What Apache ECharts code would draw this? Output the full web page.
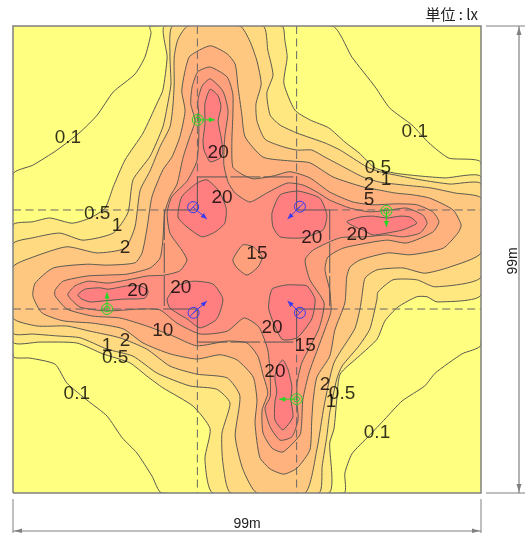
<!DOCTYPE html>
<html>
<head>
<meta charset="utf-8">
<style>html,body{margin:0;padding:0;background:#fff}#c{width:525px;height:533px}</style>
<script src="https://cdn.jsdelivr.net/npm/echarts@6/dist/echarts.min.js"></script>
</head>
<body>
<div id="c"></div>
<script>
// Room size in metres; every contour below is [x, y] in metres on the plan.
const roomSize = 99;
const unitLabel = '単位 : lx';
const sizeLabel = '99m';

// Illuminance contours (lx): region at or above each level.
const level01 = [[29,99],[67.5,99],[71.7,92.4],[76.6,86.1],[79.7,81.6],[84.4,78],[88,74.2],[92.2,71],[99,70],[99,31.4],[95,29.5],[89.3,25.4],[87.1,22.7],[82.3,19.5],[78.7,15.7],[75.3,12.1],[71.7,8.3],[70.2,4.2],[70,0],[31.5,0],[29.4,3.6],[26.2,8.5],[23.1,11.7],[19.9,16.3],[15.9,19.5],[11.4,23.3],[8.9,27.3],[3.6,28.6],[0,29],[0,67.6],[4.2,69.5],[9.3,72.7],[14.2,76.5],[17.8,80.1],[21.2,85],[25.8,88.8],[27.9,92.4],[29.2,97.5]];
const level05 = [[32.1,99],[56.9,99],[57.5,96],[58,92.4],[57.3,86.9],[59.6,81.2],[62.8,79.1],[66.8,77.4],[70.2,74.4],[73.2,72.1],[76.6,68.9],[80.8,67.8],[86.1,67.2],[91.4,66.8],[99,67],[99,42],[89.7,40.5],[87.6,41.6],[85.4,41.6],[81.4,39.4],[78.7,36.5],[77,32.6],[73.2,29],[69.2,25.2],[68.5,19.9],[67.9,13.6],[67,10.6],[66.8,0],[42.3,0],[40.6,7.2],[41.7,13.6],[38.1,18.4],[31.7,22.3],[28.3,24.8],[24.7,27.6],[19,29.5],[13.5,31.8],[5.7,32],[0,32],[0,56.8],[4.2,57.5],[7.8,58.3],[12.5,57.2],[16.3,58.3],[19.5,60.4],[21.2,64.9],[23.7,70.6],[27.5,76.3],[30.5,82.7],[31.7,85.4],[32.6,92.4]];
const level1 = [[33.8,99],[52.9,99],[53.9,93.9],[55,88.6],[53.7,84.8],[54.4,80.1],[56.5,78],[60.1,76.3],[66,74.2],[69.2,72.7],[74.9,69.1],[77.6,68.1],[81.9,67.2],[86.1,66.4],[92.4,65.5],[99,65.5],[99,45.8],[89.3,43.7],[85.4,45.2],[80.4,45.2],[77.2,42.6],[77,41.1],[75.5,34.8],[73.2,31.2],[69.6,26.9],[68.5,24.2],[67,17],[66.4,12.1],[65.4,5.7],[64.7,0],[46.1,0],[44.4,6.4],[44.2,12.7],[45.9,19.1],[43.1,22],[37.4,22.7],[30.5,25.4],[25.4,29],[19.9,30.5],[14.2,32.9],[9.3,33.3],[4.2,33.7],[0,33.9],[0,52.8],[4.2,54.1],[9.9,55.1],[14.8,53.6],[21.2,55.1],[24.3,59.4],[25.4,66.4],[29,71.4],[31.7,77.6],[32.6,81.8],[33.4,86.7],[33.2,93.1]];
const level2 = [[37,99],[48,99],[50.1,95.8],[51.6,91.6],[52.5,86.7],[51.4,82.5],[51.6,78.9],[53.3,75],[57.1,73.4],[60.1,72.7],[63.2,72.7],[66,71.2],[69.2,69.5],[74,67],[77.6,65.9],[82.5,65.3],[88.2,64.7],[93.5,63.6],[99,62.5],[99,50.9],[92.4,47.9],[87.1,46.6],[82.5,47.7],[77,47.3],[74.5,45.6],[73.8,41.6],[73.4,39],[72.3,34.8],[67.9,27.6],[65.8,18.4],[64.3,9.3],[61.8,0],[51.6,0],[48.6,5.1],[47,12.1],[48,20.6],[45.3,24.4],[38.9,25.2],[33.2,26.9],[28.3,30.5],[22.6,32.9],[16.3,34.3],[11.4,35.4],[5.1,35.4],[0,37.1],[0,47.9],[4.2,50],[11.4,52.2],[17.8,50.9],[23.7,51.9],[25.8,56.4],[26.9,64.2],[29,68.3],[31.1,73.4],[33.2,77.6],[33.8,81.8],[34.1,86.7],[34.1,92.4],[34.9,96.2]];
const level5 = [[41.7,94.8],[45.3,93.1],[47,90.9],[47.6,86.1],[48.4,80.3],[49.1,75.5],[52.9,71.2],[58.6,70.4],[62.8,70],[67.7,67],[74,64.9],[77.6,64.2],[80.8,63.6],[84.6,63.2],[88.2,62.5],[93.1,60],[94.8,56.8],[94.1,55.1],[91,51.9],[84,50.5],[79.3,50.9],[73.4,49.4],[71.3,47.9],[70.6,45.8],[70.2,40.3],[68.1,34.6],[67,29],[64.3,24.6],[63.5,19.7],[63.2,15.5],[62.8,9.1],[60.1,5.3],[57.3,4],[54.4,5.1],[52.2,7.6],[51.2,14.8],[51.6,19.7],[50.8,24.6],[47.4,28.2],[43.8,29.3],[38.9,28.4],[33.2,29.5],[27.5,31.8],[23.3,34.8],[16.9,36],[10.6,36.5],[6.1,38.2],[4.2,41.8],[4.7,44.5],[8.5,47.7],[15.7,48.5],[19.9,48.3],[25.8,48.8],[27.3,50.9],[28.3,55.8],[29.4,62.8],[31.7,68.5],[33.6,71.2],[35.3,75.5],[36.4,81],[35.7,85.2],[36.4,89.5],[37.4,92.6]];
const level10 = [[41.7,90.3],[45.3,88.2],[46.5,84.6],[46.5,79.7],[46.3,74.6],[46.5,69.1],[48.4,67.6],[50.8,66.6],[55,67.2],[58.6,68.1],[62.8,66.8],[67,63.8],[71.9,61.7],[76.1,61.1],[81.2,61.3],[85.4,61.1],[88.8,59.6],[90.1,57.5],[88.8,55.3],[83.3,53],[79.3,53.6],[76.1,53.2],[69.8,51.9],[66.6,50],[66,47.3],[67,43],[67.3,39],[67,37.5],[64.7,31.2],[62.6,25.4],[61.3,19.7],[61.1,15.5],[60.7,12.3],[57.1,8.7],[54.8,9.5],[52.9,12.7],[52.7,17.6],[53.9,21.2],[52.9,25],[51.8,29],[49.5,31.8],[45.3,32.2],[38.9,31.2],[33.8,33.3],[28.3,35.4],[22.6,37.1],[16.9,37.5],[11.4,39],[8.9,41.8],[8.9,43],[10.6,44.9],[15.7,46],[19.9,46.2],[24.1,46.4],[29,47.7],[31.1,49.8],[31.7,53.6],[32.1,59.4],[33.2,62.8],[34.7,65.5],[36,71.2],[37.4,75.5],[38.5,78.9],[37.6,82.5],[37.9,86.1],[39.1,89.3]];
const level15 = [[41.7,87.8],[44.4,85.2],[45.5,81],[44.8,75.5],[44.6,69.7],[45.5,65.9],[47,63.6],[50.1,61.7],[53.7,63.6],[58,65.7],[61.3,65.3],[64.3,63.8],[67,62.1],[71.3,60.4],[75.5,59.6],[79.7,60],[83.3,60.4],[86.7,58.9],[87.6,57.2],[86.1,55.1],[82.5,54.3],[79.1,54.7],[74.5,54.3],[69.2,54.1],[63.5,51.5],[61.8,49.4],[62.8,45.2],[65.8,40.3],[64.7,34.8],[61.1,27.6],[60.1,23.3],[60.1,19.1],[60.3,15.5],[59,11.9],[56.5,11.2],[54.4,14],[53.3,18],[54.4,20.4],[54.4,24.6],[53.9,30.3],[52,35.2],[48.9,37.1],[45.3,34.3],[39.6,33.7],[34.7,36],[31.1,38.8],[26.9,39],[19.9,38.6],[14.2,39.4],[11.6,42],[13.1,43.9],[15.9,44.9],[20.1,44.5],[25.4,45.4],[28.3,46],[32.1,46.2],[35.3,47.1],[36.8,49.4],[35.7,51.5],[33.2,55.1],[32.6,59.4],[33.6,62.8],[36.8,66.1],[38.9,70.4],[39.3,75.5],[39.3,80.3],[39.1,83.1],[40,86.3]];
const centreHole = [[48.6,52.6],[46.5,49.4],[47.4,47.7],[49.5,46.2],[51.8,47.9],[52.7,50],[50.8,52.2]];
const level20Top = [[41.7,85.6],[43.4,84.2],[44,81.8],[43.4,78.9],[44,75.5],[44.4,72.3],[43.8,71],[41.7,70.2],[40.4,72.7],[40.2,74.8],[40.6,78.2],[40.6,82.5]];
const level20Right = [[85.4,57.2],[84,58.5],[81.9,58.7],[79.1,58.3],[76.1,58.7],[73.4,58.5],[70.6,57.5],[72.8,56.2],[74,55.8],[76.1,54.7],[79.1,55.1],[82.5,55.8]];
const level20Bottom = [[57.1,28.2],[58.2,26.1],[59,22.5],[58.8,19.7],[59.2,16.1],[57.1,13.4],[55.4,15.5],[55.4,19.3],[55.8,21.4],[55.4,24.6],[56.1,27.1]];
const level20Left = [[13.7,42],[15.2,43.2],[18.4,43.5],[20.1,43.2],[24.1,43.9],[26.9,43.9],[28.6,42.8],[27.9,41.3],[23.3,41.1],[19,40.7],[16.3,40.5],[14.6,41.1]];
const level20TL = [[38.9,65.7],[41,66.4],[43.4,64.2],[45.1,60.4],[44.8,57.2],[42.7,55.3],[40,54.3],[36.8,56.4],[34.9,58.5],[35.7,62.8]];
const level20TR = [[54.8,59.4],[56.5,63.2],[60.3,64],[64.9,62.5],[66.4,58.9],[65.6,55.8],[61.3,54.1],[56.5,54.3],[55,56.4]];
const level20BL = [[32.6,41.1],[34.7,43.9],[38.1,44.9],[42.3,44.3],[44.4,41.1],[43.1,36.9],[39.6,35],[36.8,36.9],[33.2,39.2]];
const level20BR = [[54.8,43.2],[54.1,39],[56.9,32.6],[60.1,32.9],[63.2,36.9],[63.9,41.1],[62.2,43.9],[60.1,44.1],[57.7,44.1]];

// Contour labels: [x, y, text]
const contourLabels = [[11.6,75.3,'0.1'],[85,76.5,'0.1'],[77,12.7,'0.1'],[13.5,21,'0.1'],[17.8,59.1,'0.5'],[22,56.6,'1'],[23.7,51.9,'2'],[77.2,68.9,'0.5'],[78.9,66.4,'1'],[75.3,65.3,'2'],[75.3,62.1,'5'],[43.4,72.1,'20'],[44.2,62.5,'20'],[63.2,54.1,'20'],[72.8,54.7,'20'],[51.6,50.7,'15'],[26.4,42.8,'20'],[35.5,43.5,'20'],[31.7,34.3,'10'],[19.9,31.2,'1'],[23.7,32.2,'2'],[21.6,28.6,'0.5'],[54.8,35,'20'],[61.8,31.2,'15'],[55.4,25.7,'20'],[66,22.9,'2'],[67.3,19.3,'1'],[69.6,21,'0.5']];

// Luminaires: [x, y, aimX, aimY]
const blueLamps = [[38.1,60.6,41,58.1],[60.7,60.7,58.1,58.1],[38.2,38.2,41,40.7],[60.7,38.2,58.1,40.7]];
const greenLamps = [[39.1,79.1,42.7,79.1],[79,59.8,79,56.4],[19.9,39,19.9,42.5],[60,19.9,56.3,19.9]];

// Layout lines on the plan
const dashedLines = [[[39,99],[39,67]],[[60,99],[60,67]],[[39,32],[39,0]],[[60,32],[60,0]],[[0,60],[32,60]],[[67,60],[99,60]],[[0,39],[32,39]],[[67,39],[99,39]]];
const solidLines = [[[39,67],[39,60],[32,60]],[[60,67],[60,60],[67,60]],[[32,39],[39,39],[39,32]],[[67,39],[60,39],[60,32]]];
const rectLines = [[[39,67],[60,67]],[[39,32],[60,32]],[[32,60],[32,39]],[[67,60],[67,39]]];
const frameLine = [[0,0],[99,0],[99,99],[0,99],[0,0]];

const layers = [
  {pts: level01, fill: '#FFFE80'},
  {pts: level05, fill: '#FFE880'},
  {pts: level1, fill: '#FFDA80'},
  {pts: level2, fill: '#FFC880'},
  {pts: level5, fill: '#FFB27D'},
  {pts: level10, fill: '#FFA07D'},
  {pts: level15, fill: '#FF9080'},
  {pts: centreHole, fill: '#FFA07D'},
  {pts: level20TL, fill: '#FF7E80'},
  {pts: level20TR, fill: '#FF7E80'},
  {pts: level20BL, fill: '#FF7E80'},
  {pts: level20BR, fill: '#FF7E80'},
  {pts: level20Top, fill: '#FF7E80'},
  {pts: level20Right, fill: '#FF7E80'},
  {pts: level20Bottom, fill: '#FF7E80'},
  {pts: level20Left, fill: '#FF7E80'}
];

function lineSeries(list, color, dash, width) {
  return {
    type: 'custom', coordinateSystem: 'cartesian2d', clip: false, silent: true,
    data: list.map((_, i) => [i]),
    renderItem(p, api) {
      return {type: 'polyline', shape: {points: list[p.dataIndex].map(q => api.coord(q))},
        style: {stroke: color, lineWidth: width, fill: null, lineDash: dash}};
    }
  };
}
function lampSeries(list, color) {
  return {
    type: 'custom', coordinateSystem: 'cartesian2d', silent: true, z: 5,
    data: list.map((_, i) => [i]),
    renderItem(p, api) {
      const l = list[p.dataIndex];
      const c = api.coord([l[0], l[1]]), t = api.coord([l[2], l[3]]);
      const dx = t[0] - c[0], dy = t[1] - c[1], len = Math.hypot(dx, dy), ux = dx / len, uy = dy / len;
      const head = [t, [t[0] - ux * 6 - uy * 2.5, t[1] - uy * 6 + ux * 2.5], [t[0] - ux * 6 + uy * 2.5, t[1] - uy * 6 - ux * 2.5]];
      const kids = [
        {type: 'circle', shape: {cx: c[0], cy: c[1], r: 5.5}, style: {stroke: color, fill: null, lineWidth: 1}},
        {type: 'line', shape: {x1: c[0], y1: c[1], x2: t[0], y2: t[1]}, style: {stroke: color, lineWidth: 1}},
        {type: 'polygon', shape: {points: head}, style: {fill: color}}
      ];
      if (color === '#22D822') kids.push({type: 'circle', shape: {cx: c[0], cy: c[1], r: 2.8}, style: {stroke: color, fill: null, lineWidth: 1}});
      else kids.push({type: 'line', shape: {x1: c[0] - 3.6, y1: c[1] + 3.6, x2: c[0] + 3.6, y2: c[1] - 3.6}, style: {stroke: color, lineWidth: 1}});
      return {type: 'group', children: kids};
    }
  };
}

const GREY = '#808080';
const chart = echarts.init(document.getElementById('c'), null, {renderer: 'canvas'});
chart.setOption({
  animation: false,
  backgroundColor: '#fff',
  grid: {left: 13, top: 26, width: 468, height: 467, show: true, backgroundColor: '#FFFF80', borderWidth: 0},
  xAxis: {type: 'value', min: 0, max: roomSize, show: false},
  yAxis: {type: 'value', min: 0, max: roomSize, show: false},
  series: [
    {
      type: 'custom', coordinateSystem: 'cartesian2d', clip: true, silent: true,
      data: layers.map((_, i) => [i]),
      renderItem(p, api) {
        const l = layers[p.dataIndex];
        return {type: 'polygon', shape: {points: l.pts.map(q => api.coord(q)), smooth: 0.2},
          style: {fill: l.fill, stroke: '#5A5A50', lineWidth: 1}};
      }
    },
    lineSeries(dashedLines, '#666', [8, 4.5], 1),
    lineSeries(solidLines, '#555', null, 1),
    lineSeries(rectLines, '#555', [30, 3], 1),
    lineSeries([frameLine], GREY, null, 1.5),
    lampSeries(blueLamps, '#3A3AF0'),
    lampSeries(greenLamps, '#22D822'),
    {
      type: 'scatter', symbolSize: 0, silent: true, z: 6, clip: false,
      data: contourLabels,
      label: {
        show: true, position: 'inside', color: '#000', textBorderWidth: 0,
        fontFamily: 'Liberation Sans', fontSize: 19,
        formatter: d => d.data[2]
      }
    }
  ],
  graphic: [
    {type: 'text', x: 478, y: 14, style: {text: unitLabel, align: 'right', verticalAlign: 'middle', fill: '#222', font: '15px "Noto Sans CJK JP"'}},
    {type: 'line', shape: {x1: 486, y1: 26, x2: 525, y2: 26}, style: {stroke: GREY}},
    {type: 'line', shape: {x1: 486, y1: 493, x2: 525, y2: 493}, style: {stroke: GREY}},
    {type: 'line', shape: {x1: 519, y1: 26, x2: 519, y2: 493}, style: {stroke: GREY, lineWidth: 1.2}},
    {type: 'polygon', shape: {points: [[519,27],[516.5,35],[521.5,35]]}, style: {fill: GREY}},
    {type: 'polygon', shape: {points: [[519,492],[516.5,484],[521.5,484]]}, style: {fill: GREY}},
    {type: 'line', shape: {x1: 13, y1: 499, x2: 13, y2: 533}, style: {stroke: GREY}},
    {type: 'line', shape: {x1: 481, y1: 499, x2: 481, y2: 533}, style: {stroke: GREY}},
    {type: 'line', shape: {x1: 13, y1: 531, x2: 481, y2: 531}, style: {stroke: GREY, lineWidth: 1.2}},
    {type: 'polygon', shape: {points: [[14,531],[22,528.5],[22,533]]}, style: {fill: GREY}},
    {type: 'polygon', shape: {points: [[480,531],[472,528.5],[472,533]]}, style: {fill: GREY}},
    {type: 'text', x: 247, y: 524, style: {text: sizeLabel, align: 'center', verticalAlign: 'middle', fill: '#222', font: '14px "Liberation Sans"'}},
    {type: 'text', x: 513, y: 261, rotation: Math.PI / 2, style: {text: sizeLabel, align: 'center', verticalAlign: 'middle', fill: '#222', font: '14px "Liberation Sans"'}}
  ]
});
</script>
</body>
</html>
